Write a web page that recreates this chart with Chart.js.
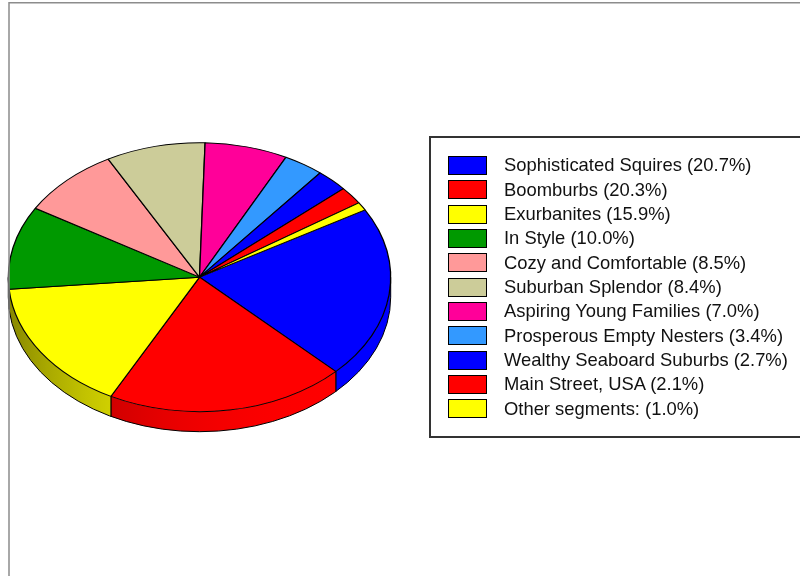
<!DOCTYPE html>
<html lang="en">
<head>
  <title>Segment shares</title>
  <script src="https://cdn.jsdelivr.net/npm/chart.js"></script>
</head>

<style>
  body { margin: 0; background: #fff; }
  #wrap { position: relative; width: 800px; height: 576px; overflow: hidden; }
  #legend-box {
    position: absolute; left: 429px; top: 136px; width: 420px; height: 302px;
    border: 2px solid #333; box-sizing: border-box;
  }
  .row {
    position: absolute; left: 448px; height: 24px; line-height: 24px;
    font-family: "Liberation Sans", Arial, sans-serif; font-size: 18.4px; color: #111;
    white-space: nowrap;
  }
  .swatch {
    position: absolute; left: 0; top: 2.6px; width: 39px; height: 19px;
    border: 1px solid #000; box-sizing: border-box;
  }
  .txt { position: absolute; left: 56px; top: 0; }
</style>

<body>
  <div id="wrap">
    <canvas id="pie" width="800" height="576"></canvas>
    <div id="legend-box"></div>
    <div id="legend"></div>
  </div>

  <script>
    // segment names, shares (%) and the legend labels as printed
    const segments = ['Sophisticated Squires', 'Boomburbs', 'Exurbanites', 'In Style',
      'Cozy and Comfortable', 'Suburban Splendor', 'Aspiring Young Families',
      'Prosperous Empty Nesters', 'Wealthy Seaboard Suburbs', 'Main Street, USA', 'Other segments'];
    const shares = [20.7, 20.3, 15.9, 10.0, 8.5, 8.4, 7.0, 3.4, 2.7, 2.1, 1.0];
    const legendLabels = ['Sophisticated Squires (20.7%)', 'Boomburbs (20.3%)', 'Exurbanites (15.9%)',
      'In Style (10.0%)', 'Cozy and Comfortable (8.5%)', 'Suburban Splendor (8.4%)',
      'Aspiring Young Families (7.0%)', 'Prosperous Empty Nesters (3.4%)',
      'Wealthy Seaboard Suburbs (2.7%)', 'Main Street, USA (2.1%)', 'Other segments: (1.0%)'];
    const colours = ['#0000FF', '#FF0000', '#FFFF00', '#009900', '#FF9999', '#CCCC99',
      '#FF0099', '#3399FF', '#0000FF', '#FF0000', '#FFFF00'];

    // pie placement (top face ellipse) and thickness
    const cx = 199.5, cy = 277.2, rx = 191.2, ry = 134.5, depth = 20;
    const tilt = ry / rx;
    const bw = 1.3;

    function darker(hex, f) {
      const n = parseInt(hex.slice(1), 16);
      const r = Math.round(((n >> 16) & 255) * f);
      const g = Math.round(((n >> 8) & 255) * f);
      const b = Math.round((n & 255) * f);
      return 'rgb(' + r + ',' + g + ',' + b + ')';
    }

    // parts of [a0,a1] that lie on the front half (0..PI)
    function frontParts(a0, a1) {
      const out = [];
      for (let k = -1; k <= 2; k++) {
        const base = 2 * Math.PI * k;
        const s = Math.max(a0, base), e = Math.min(a1, base + Math.PI);
        if (e > s) out.push([s - base, e - base]);
      }
      return out;
    }

    function drawWall(ctx, arc, col) {
      const x = arc.x, y = arc.y, r = arc.outerRadius, rr = r * tilt;
      // side gets darker towards the left edge
      const grad = ctx.createLinearGradient(x + r, 0, x - r, 0);
      for (let s = 0; s <= 20; s++) {
        const f = s / 20;
        grad.addColorStop(f, darker(col, 1 - 0.47 * f * f * f));
      }
      frontParts(arc.startAngle, arc.endAngle).forEach(function (p) {
        ctx.beginPath();
        ctx.ellipse(x, y, r, rr, 0, p[0], p[1]);
        ctx.ellipse(x, y + depth, r, rr, 0, p[1], p[0], true);
        ctx.closePath();
        ctx.fillStyle = grad;
        ctx.fill();
        // slice edges on the wall
        ctx.strokeStyle = '#000';
        ctx.lineWidth = 1;
        [p[0], p[1]].forEach(function (t) {
          ctx.beginPath();
          ctx.moveTo(x + r * Math.cos(t), y + rr * Math.sin(t));
          ctx.lineTo(x + r * Math.cos(t), y + rr * Math.sin(t) + depth);
          ctx.stroke();
        });
      });
    }

    const pie3d = {
      id: 'pie3d',
      beforeDatasetsDraw(chart) {
        const ctx = chart.ctx;
        const arcs = chart.getDatasetMeta(0).data;
        ctx.save();
        arcs.forEach(function (arc, i) { drawWall(ctx, arc, colours[i]); });
        const a = arcs[0];
        ctx.beginPath();
        ctx.ellipse(a.x, a.y + depth, a.outerRadius, a.outerRadius * tilt, 0, 0, Math.PI);
        ctx.strokeStyle = '#000';
        ctx.lineWidth = 1;
        ctx.stroke();
        ctx.restore();
        // squash the top face into an ellipse
        ctx.save();
        ctx.translate(0, a.y);
        ctx.scale(1, tilt);
        ctx.translate(0, -a.y);
      },
      afterDatasetsDraw(chart) {
        chart.ctx.restore();
      },
      afterDraw(chart) {
        const ctx = chart.ctx;
        ctx.save();
        ctx.strokeStyle = '#8c8c8c';
        ctx.lineWidth = 1.5;
        ctx.strokeRect(9, 2.75, 1000, 1000);
        ctx.restore();
      }
    };

    const side = 2 * rx + bw;
    const padLeft = cx - side / 2, padTop = cy - side / 2;

    new Chart(document.getElementById('pie'), {
      type: 'pie',
      data: {
        labels: segments,
        datasets: [{
          data: shares,
          backgroundColor: colours,
          borderColor: '#000',
          borderWidth: bw,
          hoverBorderWidth: bw,
          offset: 0,
          hoverOffset: 0
        }]
      },
      options: {
        responsive: false,
        animation: false,
        events: [],
        rotation: 60,
        layout: {
          padding: { left: padLeft, right: 800 - padLeft - side, top: padTop, bottom: 576 - padTop - side }
        },
        plugins: {
          legend: { display: false },
          tooltip: { enabled: false }
        }
      },
      plugins: [pie3d]
    });

    // legend
    const legend = document.getElementById('legend');
    legendLabels.forEach(function (lab, i) {
      const row = document.createElement('div');
      row.className = 'row';
      row.style.top = (153.3 + i * 24.33) + 'px';
      const sw = document.createElement('div');
      sw.className = 'swatch';
      sw.style.background = colours[i];
      const t = document.createElement('span');
      t.className = 'txt';
      t.textContent = lab;
      row.appendChild(sw);
      row.appendChild(t);
      legend.appendChild(row);
    });
  </script>
</body>

</html>
